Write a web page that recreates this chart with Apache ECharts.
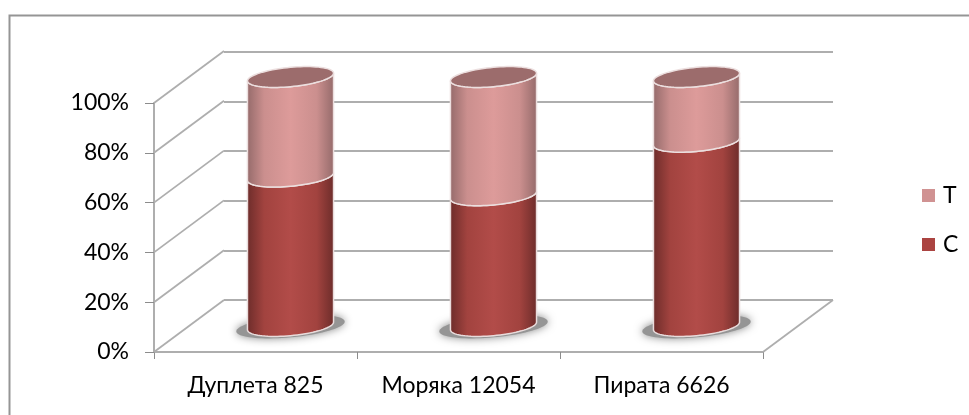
<!DOCTYPE html>
<html><head><meta charset="utf-8">
<style>html,body{margin:0;padding:0;background:#fff}#c{width:969px;height:415px;filter:blur(0.35px)}</style>
<script src="https://cdn.jsdelivr.net/npm/echarts@6/dist/echarts.min.js"></script>
</head><body><div id="c"></div>
<script>
const categories = ['Дуплета 825', 'Моряка 12054', 'Пирата 6626'];
const valuesC = [0.6, 0.525, 0.74];
const valuesT = [0.4, 0.475, 0.26];
const axisTicks = [0, 0.2, 0.4, 0.6, 0.8, 1];

const DEPTH_X = 70, DEPTH_Y = -52;
const LINE = '#aeaeae';
const FONT = 'Lato, "Open Sans", sans-serif';
const TEXT_SIZE = 23;

function ellipsePts(cx, cy, a, b, k, t0, t1, n) {
  const pts = [];
  for (let i = 0; i <= n; i++) {
    const t = t0 + (t1 - t0) * i / n;
    pts.push([cx + a * Math.cos(t), cy + b * Math.sin(t) - a * k * Math.cos(t)]);
  }
  return pts;
}
function grad(edge, mid) {
  return {type: 'linear', x: 0, y: 0, x2: 1, y2: 0, colorStops: [
    {offset: 0, color: edge}, {offset: 0.2, color: mid[0]}, {offset: 0.5, color: mid[1]},
    {offset: 0.8, color: mid[0]}, {offset: 1, color: edge}]};
}
function cylinder(look) {
  return function (params, api) {
    const base = api.coord([api.value(0), api.value(1)]);
    const top = api.coord([api.value(0), api.value(2)]);
    const band = api.size([1, 0])[0];
    const a = band * 0.212, b = a * 0.225, k = 0.09;
    const cx = base[0] + DEPTH_X / 2;
    const yb = base[1] + DEPTH_Y / 2, yt = top[1] + DEPTH_Y / 2;
    const lower = ellipsePts(cx, yb, a, b, k, Math.PI, 0, 40);
    const upper = ellipsePts(cx, yt, a, b, k, 0, Math.PI, 40);
    const children = [];
    if (look.shadow) {
      children.push({type: 'polygon',
        shape: {points: ellipsePts(cx, yb + 0.5, a * 1.26, b * 1.12, k, 0, Math.PI * 2, 80)},
        style: {fill: '#959595', shadowBlur: 9, shadowColor: '#8a8a8a'}});
    }
    children.push({type: 'polygon', shape: {points: lower.concat(upper)},
      style: {fill: grad(look.edge, look.mid), stroke: look.stroke, lineWidth: 1.5}});
    if (look.cap) {
      children.push({type: 'polygon', shape: {points: ellipsePts(cx, yt, a, b, k, 0, Math.PI * 2, 80)},
        style: {fill: look.cap, stroke: look.stroke, lineWidth: 1.5}});
    }
    return {type: 'group', children};
  };
}
function rows(starts, ends) {
  return categories.map((c, i) => [i, starts[i], ends[i]]);
}

const chart = echarts.init(document.getElementById('c'), null, {renderer: 'canvas'});
chart.setOption({
  animation: false,
  backgroundColor: '#fff',
  graphic: [{type: 'polyline', z: -10, shape: {points: [[969, 15.5], [9.5, 15.5], [9.5, 415]]},
    style: {fill: 'none', stroke: '#959595', lineWidth: 2}}],
  legend: {
    data: ['T', 'C'], orient: 'vertical', left: 922, top: 183, padding: 0, itemWidth: 13, itemHeight: 13, itemGap: 24,
    icon: 'rect', textStyle: {fontFamily: FONT, fontSize: TEXT_SIZE, lineHeight: 25, color: '#000', padding: [0, 0, 0, 3]}
  },
  color: ['#ab4441', '#d09292'],
  grid: [
    {left: 154, top: 103, width: 609, height: 249},
    {left: 224, top: 52, width: 609, height: 248}
  ],
  xAxis: [
    {type: 'category', gridIndex: 0, data: categories,
      axisLine: {onZero: false, lineStyle: {color: LINE, width: 2}},
      axisTick: {show: true, length: 7, lineStyle: {color: '#8c8c8c', width: 1}},
      axisLabel: {fontFamily: FONT, fontSize: TEXT_SIZE, color: '#000', margin: 22, interval: 0}},
    {type: 'category', gridIndex: 1, data: categories, show: false}
  ],
  yAxis: [
    {type: 'value', gridIndex: 0, min: 0, max: 1, interval: 0.2,
      axisLine: {show: true, lineStyle: {color: LINE, width: 2}},
      axisTick: {show: true, length: 9, lineStyle: {color: '#8c8c8c', width: 1}},
      splitLine: {show: false},
      axisLabel: {fontFamily: FONT, fontSize: TEXT_SIZE, color: '#000', margin: 25, padding: [5, 0, 0, 0],
        formatter: v => Math.round(v * 100) + '%'}},
    {type: 'value', gridIndex: 1, min: 0, max: 1, interval: 0.2,
      axisLine: {show: false}, axisTick: {show: false}, axisLabel: {show: false},
      splitLine: {show: true, lineStyle: {color: LINE, width: 2}}}
  ],
  series: [
    {type: 'custom', name: 'walls', xAxisIndex: 0, yAxisIndex: 0, silent: true, z: 1,
      data: axisTicks.map(v => [0, v]),
      renderItem(params, api) {
        const p = api.coord([0, api.value(1)]);
        const x0 = params.coordSys.x;
        return {type: 'line', shape: {x1: x0, y1: p[1], x2: x0 + DEPTH_X, y2: p[1] + DEPTH_Y},
          style: {stroke: LINE, lineWidth: 1.8}};
      }},
    {type: 'custom', name: 'floorEdge', xAxisIndex: 0, yAxisIndex: 0, silent: true, z: 1,
      data: [[categories.length - 1, 0]],
      renderItem(params, api) {
        const p = api.coord([0, 0]);
        const x1 = params.coordSys.x + params.coordSys.width;
        return {type: 'line', shape: {x1: x1, y1: p[1], x2: x1 + DEPTH_X, y2: p[1] + DEPTH_Y},
          style: {stroke: LINE, lineWidth: 1.8}};
      }},
    {type: 'custom', name: 'C', xAxisIndex: 0, yAxisIndex: 0, z: 3,
      data: rows(valuesC.map(() => 0), valuesC),
      itemStyle: {color: '#ab4441'},
      renderItem: cylinder({edge: '#6c2c2a', mid: ['#a2433f', '#b24c49'], stroke: '#e9dcdc', shadow: true})},
    {type: 'custom', name: 'T', xAxisIndex: 0, yAxisIndex: 0, z: 4,
      data: rows(valuesC, valuesC.map((v, i) => v + valuesT[i])),
      itemStyle: {color: '#d09292'},
      renderItem: cylinder({edge: '#946a6a', mid: ['#cb8f8e', '#dd9b9a'], stroke: '#ecdfdf', cap: '#9c6c6c'})}
  ]
});
</script></body></html>
